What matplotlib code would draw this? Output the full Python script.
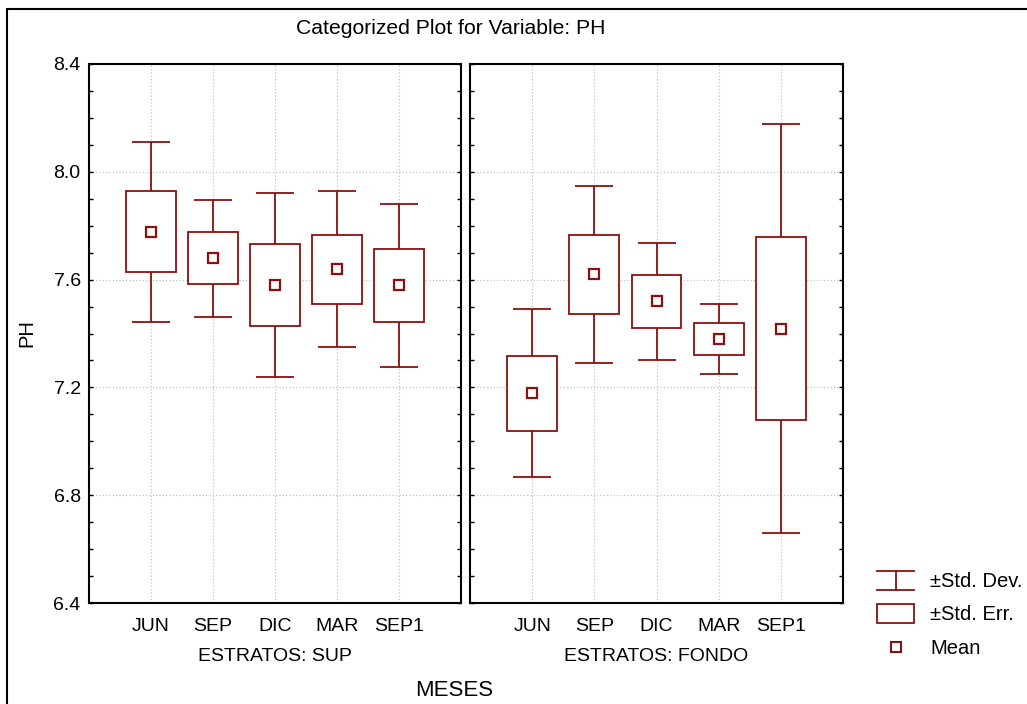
import numpy as np
import matplotlib
matplotlib.use('Agg')
import matplotlib.pyplot as plt
from matplotlib.patches import Rectangle
from matplotlib.lines import Line2D
from matplotlib.legend_handler import HandlerBase
from matplotlib.ticker import MultipleLocator, FormatStrFormatter

plt.rcParams['font.family'] = ['Liberation Sans', 'DejaVu Sans']

# ----------------------------------------------------------------------------------------------------------------------
# Data
# ----------------------------------------------------------------------------------------------------------------------
meses = ['JUN', 'SEP', 'DIC', 'MAR', 'SEP1']
estratos = ['SUP', 'FONDO']

mean_sup = [7.778, 7.679, 7.579, 7.638, 7.579]
se_sup = [0.149, 0.097, 0.153, 0.128, 0.135]
sd_sup = [0.334, 0.218, 0.342, 0.289, 0.303]

mean_fondo = [7.178, 7.620, 7.519, 7.380, 7.418]
se_fondo = [0.140, 0.146, 0.097, 0.058, 0.340]
sd_fondo = [0.312, 0.328, 0.217, 0.131, 0.760]

red = '#8b1010'

# ----------------------------------------------------------------------------------------------------------------------
# Legend handlers
# ----------------------------------------------------------------------------------------------------------------------
class SDHandler(HandlerBase):
    def create_artists(self, legend, orig_handle, xdescent, ydescent, width, height, fontsize, trans):
        x0, x1 = -xdescent, -xdescent + width
        y0, y1 = -ydescent - 2, -ydescent + height + 2
        xm = (x0 + x1) / 2
        out = [Line2D([x0, x1], [y1, y1]), Line2D([x0, x1], [y0, y0]), Line2D([xm, xm], [y0, y1])]
        for l in out:
            l.set_color(red)
            l.set_linewidth(1.3)
            l.set_transform(trans)
        return out


class SEHandler(HandlerBase):
    def create_artists(self, legend, orig_handle, xdescent, ydescent, width, height, fontsize, trans):
        r = Rectangle((-xdescent, -ydescent - 2), width, height + 4, facecolor='white',
                      edgecolor=red, linewidth=1.3, transform=trans)
        return [r]


class MeanHandler(HandlerBase):
    def create_artists(self, legend, orig_handle, xdescent, ydescent, width, height, fontsize, trans):
        m = Line2D([-xdescent + width / 2], [-ydescent + height / 2], marker='s', markersize=7,
                   markerfacecolor='white', markeredgecolor=red, markeredgewidth=1.5,
                   linestyle='none', transform=trans)
        return [m]


# ----------------------------------------------------------------------------------------------------------------------
# Plot
# ----------------------------------------------------------------------------------------------------------------------
fig = plt.figure(figsize=(10.27, 7.04), dpi=100)
fig.patches.append(Rectangle((7 / 1027, -0.2), 1.5, 1.2 - 9 / 704, transform=fig.transFigure,
                             fill=False, edgecolor='black', linewidth=1.5, clip_on=False))

ax1 = fig.add_axes([89 / 1027, 1 - 603 / 704, 372 / 1027, 539 / 704])
ax2 = fig.add_axes([470 / 1027, 1 - 603 / 704, 373 / 1027, 539 / 704])

x = np.arange(1, len(meses) + 1)
for ax, mean, se, sd, est in [(ax1, mean_sup, se_sup, sd_sup, 'SUP'),
                              (ax2, mean_fondo, se_fondo, sd_fondo, 'FONDO')]:
    mean = np.array(mean)
    se = np.array(se)
    sd = np.array(sd)
    ax.errorbar(x, mean, yerr=sd, fmt='none', ecolor=red, elinewidth=1.3, capsize=13.5,
                capthick=1.3, zorder=2)
    for xi, m, s in zip(x, mean, se):
        ax.add_patch(Rectangle((xi - 0.4, m - s), 0.8, 2 * s, facecolor='white', edgecolor=red,
                               linewidth=1.3, zorder=3))
    ax.plot(x, mean, 's', markersize=7, markerfacecolor='white', markeredgecolor=red,
            markeredgewidth=1.6, zorder=4)
    ax.set_xlim(0, 6)
    ax.set_ylim(6.4, 8.4)
    ax.set_xticks(x)
    ax.set_xticklabels(meses, fontsize=14)
    ax.yaxis.set_major_locator(MultipleLocator(0.4))
    ax.yaxis.set_minor_locator(MultipleLocator(0.1))
    ax.grid(True, which='major', linestyle=(0, (1, 2)), color='#bbbbbb', linewidth=0.8)
    ax.set_axisbelow(True)
    ax.tick_params(axis='x', length=0, pad=10.5)
    ax.tick_params(axis='y', which='both', direction='in', length=3, left=True, right=True,
                   width=1, labelsize=14)
    for sp in ax.spines.values():
        sp.set_linewidth(1.5)
    ax.set_xlabel('ESTRATOS: ' + est, fontsize=14, labelpad=10)

ax1.yaxis.set_major_formatter(FormatStrFormatter('%.1f'))
ax1.tick_params(axis='y', pad=6)
ax2.tick_params(axis='y', labelleft=False)
ax1.set_ylabel('PH', fontsize=14.5, labelpad=12)

fig.text(451 / 1027, 1 - 28 / 704, 'Categorized Plot for Variable: PH', fontsize=15.2,
         ha='center', va='center')
fig.text(454 / 1027, 1 - 691 / 704, 'MESES', fontsize=16, ha='center', va='center')

handles = [object(), object(), object()]
fig.legend(handles, ['\u00b1Std. Dev.', '\u00b1Std. Err.', 'Mean'],
           handler_map={handles[0]: SDHandler(), handles[1]: SEHandler(), handles[2]: MeanHandler()},
           loc='center left', bbox_to_anchor=(877 / 1027, 1 - 615 / 704), frameon=False,
           fontsize=14.5, handlelength=1.84, handleheight=0.7, handletextpad=0.8, labelspacing=0.7,
           borderpad=0, borderaxespad=0)

plt.savefig('out.png', dpi=100)
